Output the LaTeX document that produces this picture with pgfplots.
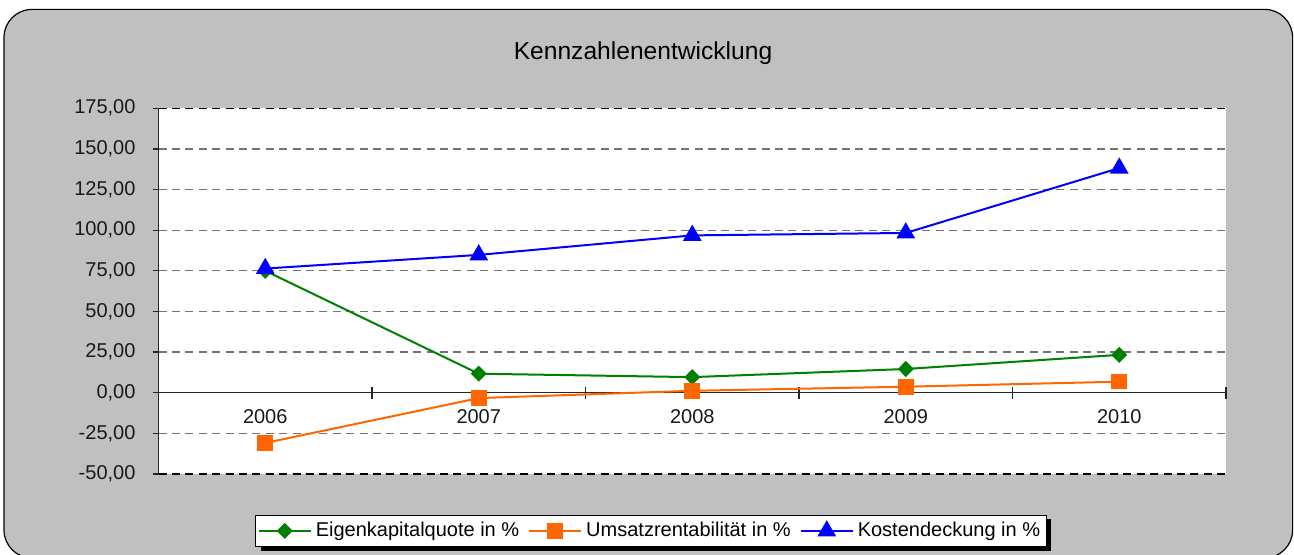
\documentclass[border=0pt]{standalone}
\usepackage{pgfplots}
\pgfplotsset{compat=1.18}
\usepackage{fontspec}
\setmainfont{Liberation Sans}
\definecolor{bggray}{RGB}{192,192,192}
\definecolor{xlgreen}{RGB}{0,128,0}
\definecolor{xlorange}{RGB}{255,102,0}
\definecolor{xlblue}{RGB}{0,0,255}
\begin{document}
\begin{tikzpicture}[x=1pt,y=1pt]
\useasboundingbox (0,0) rectangle (647,277.5);
\filldraw[fill=bggray, draw=black, line width=0.6pt, rounded corners=14pt] (2,-1.5) rectangle (646.3,272.8);
\node[font=\fontsize{12.3}{14}\selectfont] at (321.5,251) {Kennzahlenentwicklung};
\fill[black] (130.5,2) rectangle (525.5,18);
\begin{axis}[
  at={(79.25pt,40.5pt)}, anchor=south west,
  width=533.75pt, height=182.85pt, scale only axis,
  axis background/.style={fill=white},
  xmin=-0.5, xmax=4.5, ymin=-50, ymax=175,
  axis x line*=middle, axis y line*=left,
  axis line style={-, black!85, line width=0.7pt},
  xtick={0,1,2,3,4},
  xticklabels={2006,2007,2008,2009,2010},
  hide obscured x ticks=false,
  xtick style={draw=none},
  extra x ticks={0.5,1.5,2.5,3.5,4.5},
  extra x tick labels={},
  extra x tick style={major tick length=6pt, xtick align=center, xtick style={draw=black!85, line width=0.6pt}, grid=none},
  ytick align=outside,
  major tick length=3pt,
  ytick style={black!85, line width=0.6pt},
  ytick={-50,-25,0,25,50,75,100,125,150,175},
  ymajorgrids,
  grid style={black!55, line width=0.6pt, dash pattern=on 4pt off 2.7pt},
  extra y ticks={-50,175},
  extra y tick labels={},
  extra y tick style={grid style={black, line width=0.6pt, dash pattern=on 4pt off 2.7pt}},
  tick label style={font=\fontsize{10}{12}\selectfont, text=black!90},
  xticklabel style={yshift=-5pt},
  yticklabel style={xshift=-5pt, /pgf/number format/.cd, fixed, fixed zerofill, precision=2, use comma, assume math mode=true},
  legend style={at={(0.4613,-0.1557)}, anchor=center, draw=black, fill=white,
    font=\fontsize{10}{12}\selectfont, legend columns=3,
    nodes={inner xsep=2pt},
    /tikz/every odd column/.append style={column sep=0pt},
    /tikz/every even column/.append style={column sep=2.5pt},
    inner xsep=1pt, inner ysep=1.5pt},
  legend image code/.code={\draw[mark repeat=2, mark phase=2, #1] plot coordinates {(0pt,0pt) (13pt,0pt) (26pt,0pt)};},
  every axis plot/.append style={line width=1pt},
]
\addplot[color=xlgreen, mark=diamond*, mark size=3.3pt, mark options={xscale=1.33}] coordinates {(0,75.0) (1,11.7) (2,9.6) (3,14.6) (4,23.3)};
\addlegendentry{Eigenkapitalquote in \%}
\addplot[color=xlorange, mark=square*, mark size=3.4pt] coordinates {(0,-30.9) (1,-3.3) (2,1.2) (3,3.7) (4,6.8)};
\addlegendentry{Umsatzrentabilität in \%}
\addplot[color=xlblue, mark=triangle*, mark size=4.4pt] coordinates {(0,76.4) (1,84.8) (2,96.8) (3,98.3) (4,138.2)};
\addlegendentry{Kostendeckung in \%}
\end{axis}
\end{tikzpicture}
\end{document}
